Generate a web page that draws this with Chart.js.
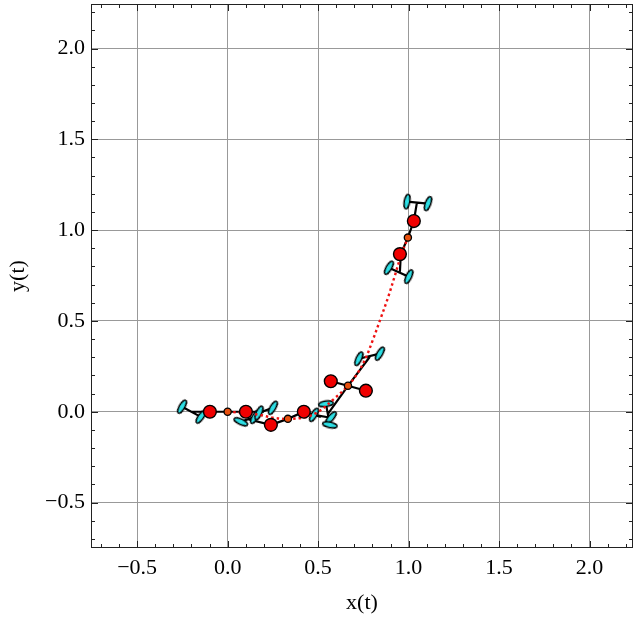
<!DOCTYPE html>
<html>
<head>
<meta charset="utf-8">
<script src="https://cdn.jsdelivr.net/npm/chart.js@4.4.1/dist/chart.umd.min.js"></script>
<style>
  html, body { margin: 0; padding: 0; background: #fff; }
  canvas { display: block; }
</style>
</head>
<body>
<canvas id="c" width="634" height="621"></canvas>
<script>
// ---- data ----
const xTickLabels = [-0.5, 0.0, 0.5, 1.0, 1.5, 2.0];
const yTickLabels = [-0.5, 0.0, 0.5, 1.0, 1.5, 2.0];

// reference trajectory (red dotted)
const trajX = [0, 0.096, 0.178, 0.250, 0.333, 0.438, 0.510, 0.582, 0.665, 0.720, 0.764, 0.803, 0.847, 0.886, 0.924, 0.958, 0.996];
const trajY = [0, -0.006, -0.017, -0.033, -0.039, -0.028, 0.006, 0.066, 0.143, 0.215, 0.298, 0.397, 0.518, 0.628, 0.749, 0.860, 0.959];

// body centres (small dots)
const hubX = [0.0, 0.333, 0.665, 0.996];
const hubY = [0.0, -0.039, 0.143, 0.959];

// big red circles
const rotorX = [-0.098, 0.101, 0.239, 0.421, 0.570, 0.764, 0.952, 1.029];
const rotorY = [0.0, 0.0, -0.072, 0.0, 0.168, 0.116, 0.868, 1.050];

// black links (null separates polylines)
const linkX = [
  -0.203, 0.201, null,          // config 1 body
  -0.252, -0.148, null,         // config 1 left bar
  0.173, 0.250, null,           // config 1 right bar
  0.239, 0.112, null,           // config 2 left leg
  0.073, 0.151, null,           // config 2 left bar
  0.239, 0.333, 0.421, 0.515, null, // config 2 body + right leg
  0.477, 0.571, null,           // config 2 right bar
  0.570, 0.665, 0.764, null,    // config 3 body
  0.665, 0.786, null,           // config 3 upper leg
  0.725, 0.841, null,           // config 3 upper bar
  0.665, 0.554, null,           // config 3 lower leg
  0.543, 0.565, null,           // config 3 lower bar
  1.045, 1.029, 0.996, 0.957, 0.952, null, // config 4 chain
  0.991, 1.107, null,           // config 4 top bar
  0.891, 1.001                  // config 4 bottom bar
];
const linkY = [
  0.0, 0.0, null,
  0.028, -0.028, null,
  -0.006, 0.022, null,
  -0.072, -0.041, null,
  -0.055, -0.028, null,
  -0.072, -0.039, 0.0, -0.028, null,
  -0.017, -0.033, null,
  0.168, 0.143, 0.116, null,
  0.143, 0.303, null,
  0.292, 0.320, null,
  0.143, -0.011, null,
  0.044, -0.072, null,
  1.146, 1.050, 0.959, 0.868, 0.771, null,
  1.157, 1.146, null,
  0.793, 0.744
];

// cyan blades
const bladeX = [-0.252, -0.148, 0.073, 0.151, 0.173, 0.250, 0.477, 0.571, 0.543, 0.565, 0.725, 0.841, 0.991, 1.107, 0.891, 1.001];
const bladeY = [0.028, -0.028, -0.055, -0.028, -0.006, 0.022, -0.017, -0.033, 0.044, -0.072, 0.292, 0.320, 1.157, 1.146, 0.793, 0.744];
const bladeAngle = [-60, -55, 25, -60, -65, -60, -60, -50, -8, 12, -65, -60, -80, -70, -60, -65];

// ---- helpers ----
const pts = (xs, ys) => xs.map((x, i) => (x === null ? {x: NaN, y: NaN} : {x: x, y: ys[i]}));

const blade = document.createElement('canvas');
blade.width = 18; blade.height = 8;
(function () {
  const g = blade.getContext('2d');
  g.beginPath();
  g.ellipse(9, 4, 7.4, 2.8, 0, 0, Math.PI * 2);
  g.fillStyle = '#2ee0e6';
  g.fill();
  g.lineWidth = 1.4;
  g.strokeStyle = '#000';
  g.stroke();
})();

const FONT = {family: "'Liberation Serif', 'DejaVu Serif', serif", size: 22};
const fmt = v => {
  const s = Math.abs(v).toFixed(1);
  return v < -1e-9 ? '\u2212' + s : s;
};

// inward ticks + frame, Mathematica style
const framePlugin = {
  id: 'frame',
  afterDraw(chart) {
    const {ctx, chartArea: a, scales: {x, y}} = chart;
    ctx.save();
    ctx.strokeStyle = '#222';
    ctx.lineWidth = 1;
    const tick = (px, py, dx, dy) => {
      ctx.beginPath();
      ctx.moveTo(px, py);
      ctx.lineTo(px + dx, py + dy);
      ctx.stroke();
    };
    for (let i = -8; i <= 23; i++) {
      const v = i / 10;
      const major = i % 5 === 0;
      const L = major ? 7 : 4;
      if (v >= x.min && v <= x.max) {
        const px = Math.round(x.getPixelForValue(v)) + 0.5;
        tick(px, a.bottom, 0, -L);
        tick(px, a.top, 0, L);
      }
      if (v >= y.min && v <= y.max) {
        const py = Math.round(y.getPixelForValue(v)) + 0.5;
        tick(a.left, py, L, 0);
        tick(a.right, py, -L, 0);
      }
    }
    ctx.strokeRect(a.left + 0.5, a.top + 0.5, a.right - a.left - 1, a.bottom - a.top - 1);
    ctx.restore();
  }
};

new Chart(document.getElementById('c'), {
  type: 'scatter',
  data: {
    datasets: [
      {
        data: pts(linkX, linkY),
        showLine: true, spanGaps: false,
        borderColor: '#000', borderWidth: 2.2,
        pointRadius: 0, order: 5
      },
      {
        data: pts(bladeX, bladeY),
        showLine: false,
        pointStyle: blade, pointRadius: 5,
        rotation: bladeAngle,
        order: 4
      },
      {
        data: pts(trajX, trajY),
        showLine: true, tension: 0.35,
        borderColor: '#ee1111', borderWidth: 2.4,
        borderDash: [2.5, 3],
        pointRadius: 0, order: 3
      },
      {
        data: pts(rotorX, rotorY),
        showLine: false,
        pointRadius: 6.4, pointBackgroundColor: '#f00000',
        pointBorderColor: '#000', pointBorderWidth: 1.4,
        order: 2
      },
      {
        data: pts(hubX, hubY),
        showLine: false,
        pointRadius: 3.6, pointBackgroundColor: '#e8500e',
        pointBorderColor: '#000', pointBorderWidth: 1.3,
        order: 1
      }
    ]
  },
  options: {
    responsive: false,
    animation: false,
    devicePixelRatio: 1,
    layout: {autoPadding: false, padding: {top: 4, right: 1, left: 0, bottom: 0}},
    plugins: {legend: {display: false}, tooltip: {enabled: false}},
    scales: {
      x: {
        type: 'linear', min: -0.755, max: 2.24,
        afterFit: s => { s.height = 73; s.paddingLeft = 0; s.paddingRight = 0; },
        afterBuildTicks: s => { s.ticks = xTickLabels.map(v => ({value: v})); },
        grid: {color: '#999', lineWidth: 1, drawTicks: false},
        border: {display: false},
        ticks: {font: FONT, color: '#000', padding: 7, maxRotation: 0, autoSkip: false, callback: fmt},
        title: {display: true, text: 'x(t)', font: FONT, color: '#000', padding: {top: 0, bottom: 5}}
      },
      y: {
        type: 'linear', min: -0.75, max: 2.245,
        afterFit: s => { s.width = 91; s.paddingTop = 0; s.paddingBottom = 0; },
        afterBuildTicks: s => { s.ticks = yTickLabels.map(v => ({value: v})); },
        grid: {color: '#999', lineWidth: 1, drawTicks: false},
        border: {display: false},
        ticks: {font: FONT, color: '#000', padding: 6, autoSkip: false, callback: fmt},
        title: {display: true, text: 'y(t)', font: FONT, color: '#000', padding: {top: 5, bottom: 0}}
      }
    }
  },
  plugins: [framePlugin]
});
</script>
</body>
</html>
